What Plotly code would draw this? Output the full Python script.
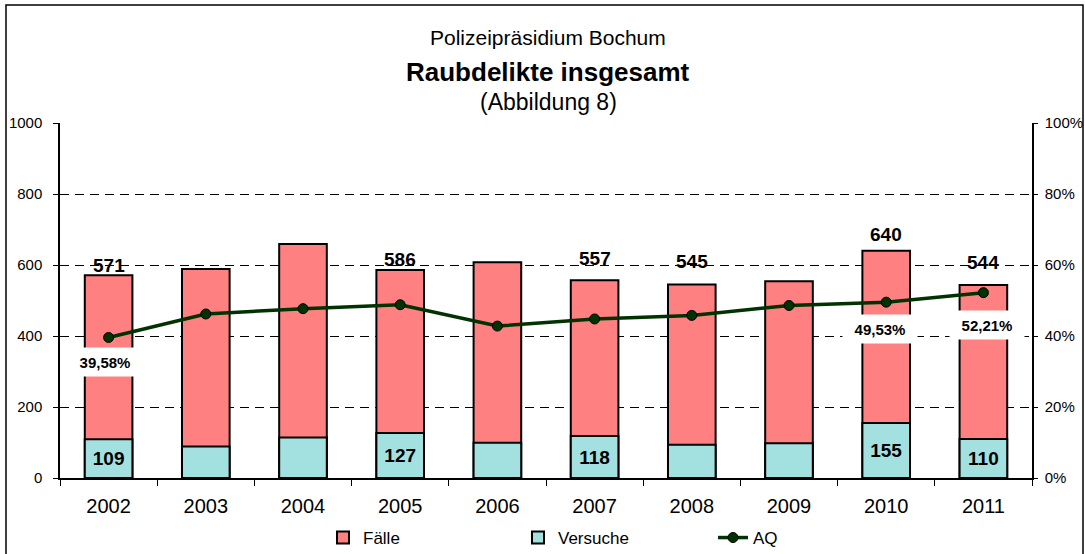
import plotly.graph_objects as go

# ---------------- data ----------------
years = ["2002", "2003", "2004", "2005", "2006", "2007", "2008", "2009", "2010", "2011"]
faelle = [571, 589, 659, 586, 608, 557, 545, 554, 640, 544]
versuche = [109, 89, 114, 127, 99, 118, 94, 98, 155, 110]
aq_pct = [39.58, 46.2, 47.7, 48.8, 42.8, 44.8, 45.8, 48.6, 49.53, 52.21]

faelle_labeled = ["2002", "2005", "2007", "2008", "2010", "2011"]
versuche_labeled = ["2002", "2005", "2007", "2010", "2011"]
aq_labeled = ["2002", "2010", "2011"]

title_lines = ["Polizeipräsidium Bochum", "Raubdelikte insgesamt", "(Abbildung 8)"]

# ---------------- styling ----------------
FONT = "Arial, 'Liberation Sans', sans-serif"
faelle_label_shift = {"2002": 10, "2005": 10, "2007": 22, "2008": 23, "2010": 16, "2011": 22}
aq_label_shift = {"2002": (-4, -25), "2010": (-6, -27), "2011": (4, -32)}

# plot area in pixels: x 60..1032, y 123..478
def py(p):
    return (478 - p) / 355.0

def px(p):
    return (p - 60) / 972.0

fig = go.Figure()

fig.add_trace(go.Bar(
    x=years, y=faelle, name="Fälle", width=0.49,
    marker=dict(color="#FF8080", line=dict(color="black", width=2)),
    hoverinfo="x+y",
))

fig.add_trace(go.Bar(
    x=years, y=versuche, name="Versuche", width=0.49,
    marker=dict(color="#A3E0E0", line=dict(color="black", width=2)),
    text=[str(v) if y in versuche_labeled else "" for y, v in zip(years, versuche)],
    textposition="inside", insidetextanchor="middle", constraintext="none",
    textfont=dict(family=FONT, size=19, color="black", weight="bold"),
    hoverinfo="x+y",
))

fig.add_trace(go.Scatter(
    x=years, y=[v / 100.0 for v in aq_pct], name="AQ", yaxis="y2",
    mode="lines+markers",
    line=dict(color="#003300", width=3.5),
    marker=dict(size=10, color="#003300", line=dict(color="black", width=1)),
))

annotations = []
for i, (y, v) in enumerate(zip(years, faelle)):
    if y in faelle_labeled:
        annotations.append(dict(
            x=i, y=v, xref="x", yref="y", text=str(v), showarrow=False,
            yanchor="middle", yshift=faelle_label_shift[y],
            font=dict(family=FONT, size=19, color="black", weight="bold"),
        ))

for i, (y, v) in enumerate(zip(years, aq_pct)):
    if y in aq_labeled:
        xs, ys = aq_label_shift[y]
        annotations.append(dict(
            x=i, y=v / 100.0, xref="x", yref="y2",
            text=f"{v:.2f}".replace(".", ",") + "%", showarrow=False,
            xshift=xs, yshift=ys, bgcolor="white", width=74, height=28, borderpad=0,
            font=dict(family=FONT, size=15, color="black", weight="bold"),
        ))

title_specs = [
    (title_lines[0], 37, 21, "normal"),
    (title_lines[1], 72, 26, "bold"),
    (title_lines[2], 102, 23, "normal"),
]
for txt, ypix, size, weight in title_specs:
    annotations.append(dict(
        x=px(548), y=py(ypix), xref="paper", yref="paper", text=txt,
        showarrow=False, xanchor="center", yanchor="middle",
        font=dict(family=FONT, size=size, color="black", weight=weight),
    ))

fig.update_layout(
    width=1085, height=554, autosize=False,
    margin=dict(l=60, r=53, t=123, b=76, pad=0, autoexpand=False),
    paper_bgcolor="white", plot_bgcolor="white",
    barmode="overlay",
    font=dict(family=FONT, color="black"),
    showlegend=True,
    legend=dict(
        orientation="h", x=px(323), xanchor="left", y=py(538), yanchor="middle",
        entrywidth=150, entrywidthmode="pixels",
        font=dict(family=FONT, size=17, color="black"),
        bgcolor="rgba(0,0,0,0)", traceorder="normal",
    ),
    xaxis=dict(
        type="category", range=[-0.5, len(years) - 0.5], autorange=False,
        showline=True, linecolor="black", linewidth=1.5,
        ticks="outside", tickson="boundaries", ticklen=6, tickcolor="black",
        tickfont=dict(family=FONT, size=20, color="black"), tickangle=0,
        showgrid=False, ticklabelstandoff=9, automargin=False,
    ),
    yaxis=dict(
        range=[0, 1000], dtick=200, tick0=0, showline=True, linecolor="black",
        linewidth=1.5, ticks="outside", ticklen=5, tickcolor="black",
        showgrid=True, gridcolor="black", griddash="9px,6px", gridwidth=1,
        zeroline=False, tickfont=dict(family=FONT, size=15, color="black"),
        ticklabelstandoff=8, automargin=False,
    ),
    yaxis2=dict(
        range=[0, 1], dtick=0.2, tick0=0, tickformat=".0%", overlaying="y",
        side="right", anchor="x", showline=True, linecolor="black", linewidth=1.5,
        ticks="outside", ticklen=4, tickcolor="black", showgrid=False,
        zeroline=False, tickfont=dict(family=FONT, size=15, color="black"),
        ticklabelstandoff=4, automargin=False,
    ),
    annotations=annotations,
    shapes=[dict(
        type="rect", xref="paper", yref="paper",
        x0=px(6), x1=px(1083), y0=py(562), y1=py(5),
        line=dict(color="black", width=1.5), fillcolor="rgba(0,0,0,0)",
    )],
)

fig.write_html(
    "out.html",
    config={"displayModeBar": False},
    post_script="document.body.style.margin='0';document.body.style.overflow='hidden';",
)
